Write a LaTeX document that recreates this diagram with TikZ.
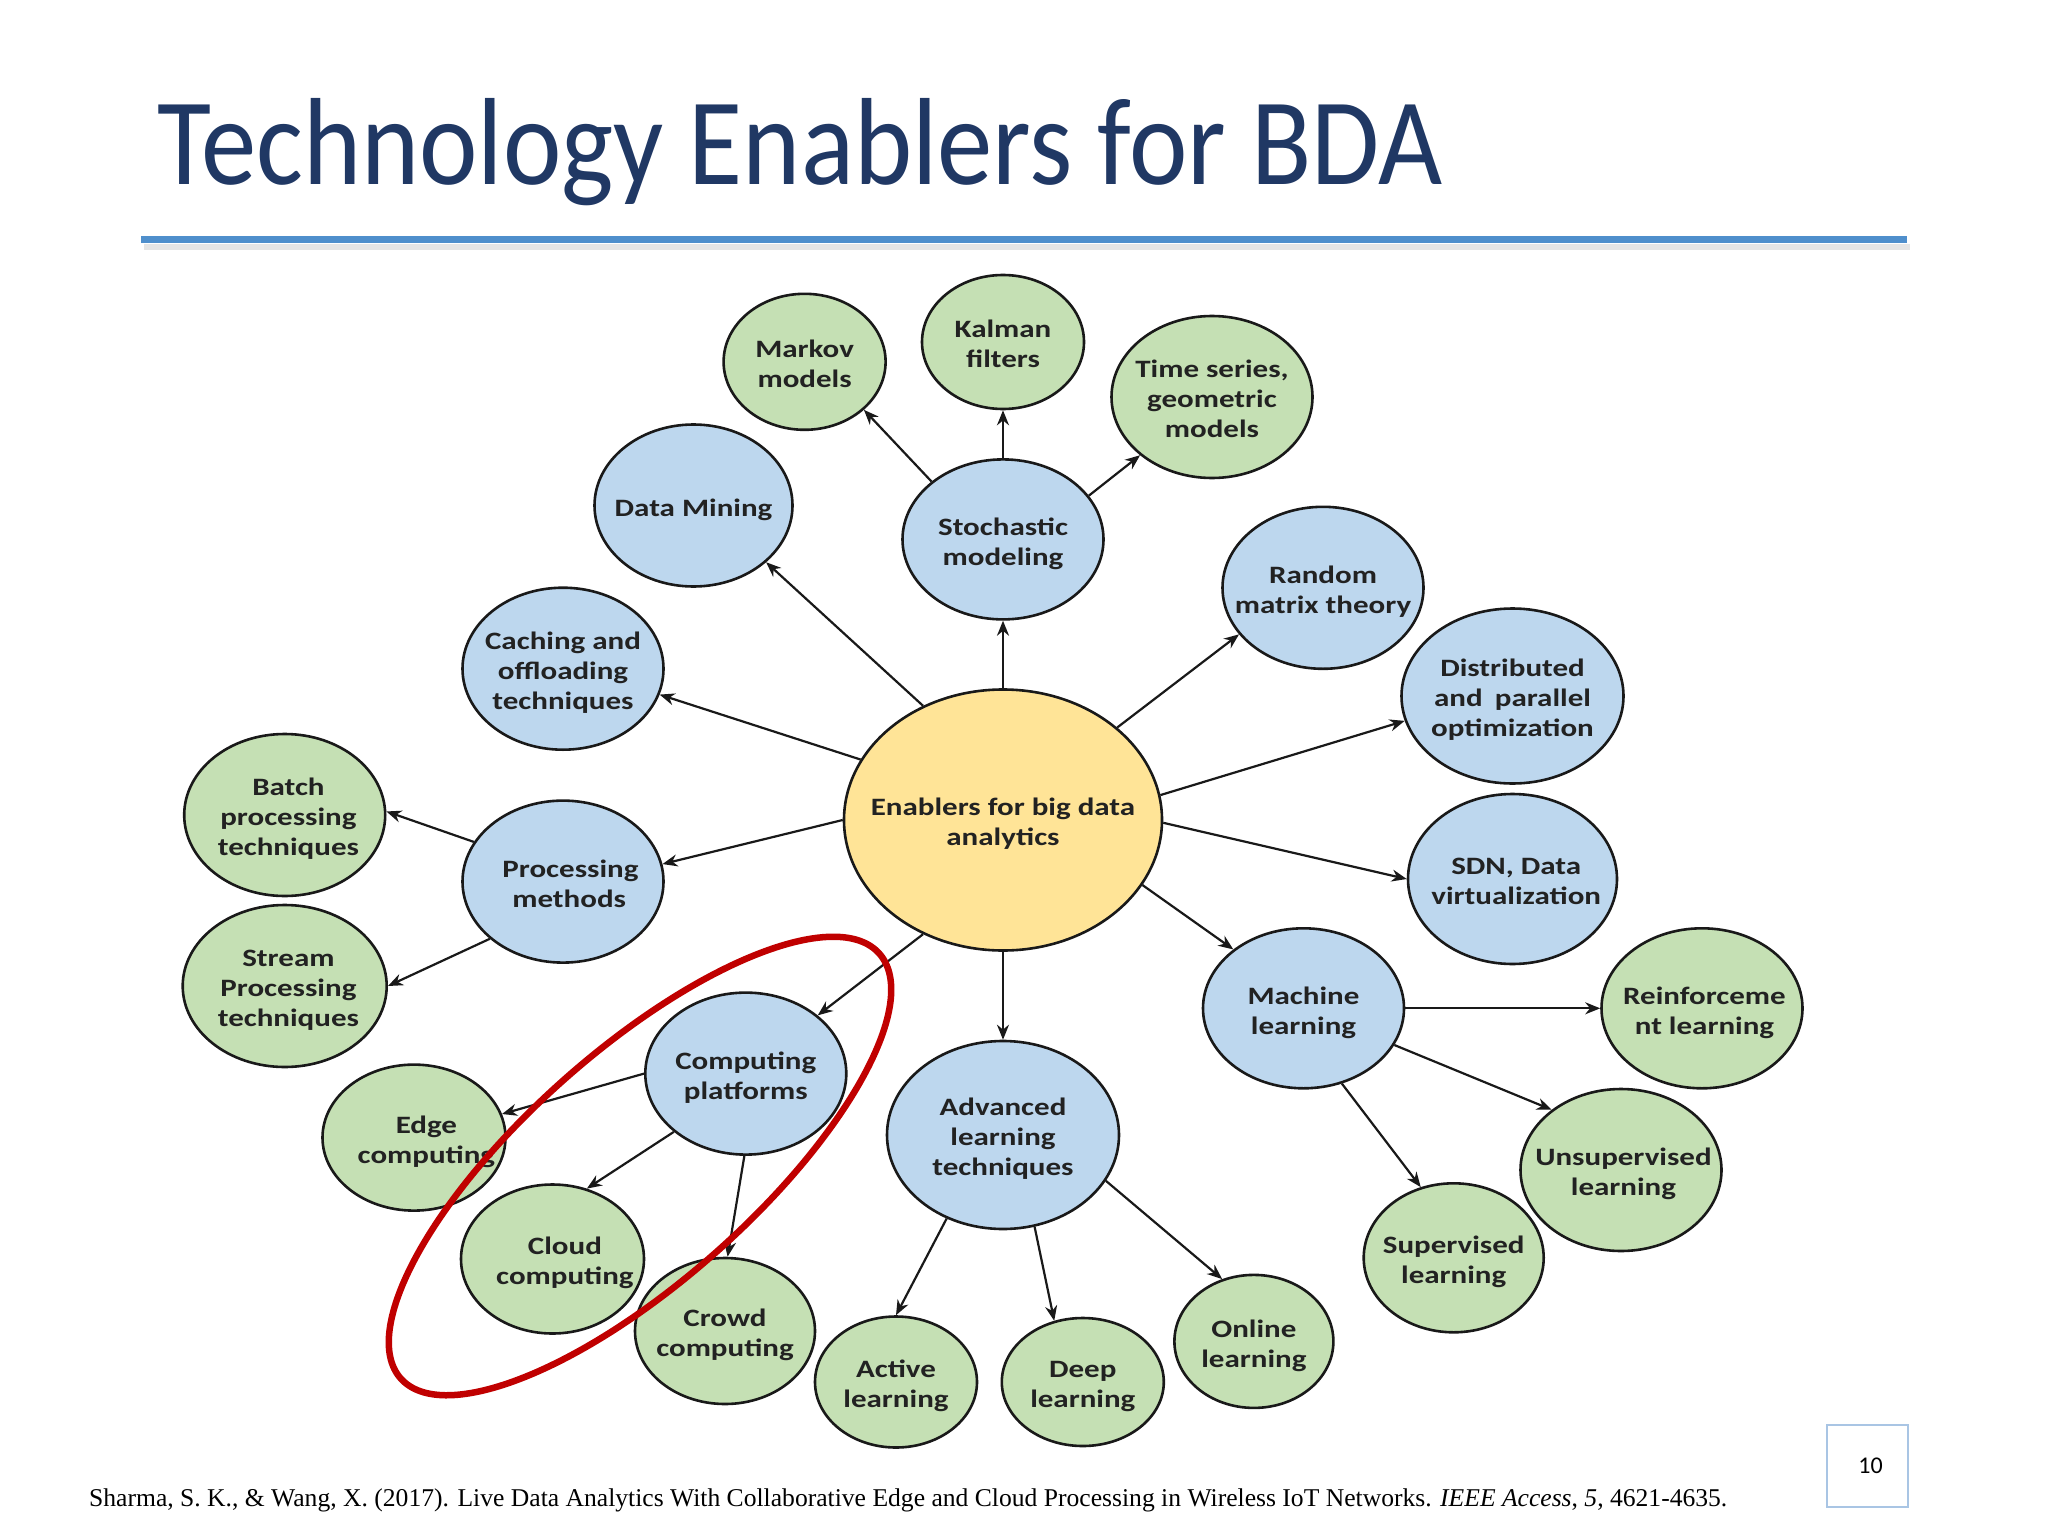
\documentclass[tikz,border=0pt]{standalone}
\usepackage{graphicx}
\usepackage{fontspec}
\setmainfont{Carlito}
\newfontfamily\timesf{Liberation Serif}
\usetikzlibrary{shapes.geometric,arrows.meta}
\definecolor{titleblue}{HTML}{203864}
\definecolor{rulecol}{HTML}{4F8FCC}
\definecolor{nblue}{HTML}{BDD7EE}
\definecolor{ngreen}{HTML}{C5E0B4}
\definecolor{nyellow}{HTML}{FFE497}
\definecolor{ntext}{HTML}{222222}
\definecolor{boxblue}{HTML}{A9C5E4}
\definecolor{ringred}{HTML}{C00000}
\newcommand{\lbl}[1]{\makebox[0pt][c]{\raisebox{-11pt}[0pt][0pt]{\scalebox{1.24}[1]{\begin{tabular}{@{}c@{}}#1\end{tabular}}}}}
\tikzset{
  bubble/.style={ellipse, draw=black!90, line width=2.6pt, inner sep=0pt, text=ntext,
     font=\bfseries\fontsize{25}{30}\selectfont},
  bl/.style={bubble, fill=nblue},
  gr/.style={bubble, fill=ngreen},
  ye/.style={bubble, fill=nyellow},
  sz/.style 2 args={minimum width=#1pt, minimum height=#2pt},
  arr/.style={line width=2.2pt, black!90, -{Stealth[length=15pt,width=12pt]}}
}
\begin{document}
\begin{tikzpicture}[x=1pt,y=-1pt]
\useasboundingbox (0,0) rectangle (2048,1536);
\fill[white] (0,0) rectangle (2048,1536);
% title and rule
\node[anchor=base west, inner sep=0pt, text=titleblue, font=\fontsize{124}{130}\selectfont] (title) at (157,184) {\scalebox{0.893}[1]{Technology Enablers for BDA}};
\draw[line width=6pt, black!10] (144,247) -- (1910,247);
\draw[line width=7pt, rulecol] (141,239) -- (1907,239);
% nodes
\node[gr, sz={162}{136}] (markov) at (804.6,361.8) {\lbl{Markov\\models}};
\node[gr, sz={162}{134}] (kalman) at (1003,342) {\lbl{Kalman\\filters}};
\node[gr, sz={201}{162}] (tseries) at (1212,397) {\lbl{Time series,\\geometric\\models}};
\node[bl, sz={198}{162}] (dmining) at (693.5,505.5) {\lbl{Data Mining}};
\node[bl, sz={201}{160}] (stoch) at (1003,539.4) {\lbl{Stochastic\\modeling}};
\node[bl, sz={201}{162}] (random) at (1323,587.8) {\lbl{Random\\matrix theory}};
\node[bl, sz={201}{162}] (caching) at (563,668.7) {\lbl{Caching and\\offloading\\techniques}};
\node[bl, sz={222}{175}] (distrib) at (1512.5,696) {\lbl{Distributed\\and\, parallel\\optimization}};
\node[gr, sz={201}{162}] (batch) at (284.7,815) {\lbl{\hspace*{6pt}Batch\\\hspace*{6pt}processing\\\hspace*{6pt}techniques}};
\node[bl, sz={201}{162}] (procm) at (563,881.6) {\lbl{\hspace*{12pt}Processing\\\hspace*{10pt}methods}};
\node[ye, sz={318}{261}] (enab) at (1003,820) {\lbl{Enablers for big data\\analytics}};
\node[bl, sz={209}{170}] (sdn) at (1512.5,879) {\lbl{\hspace*{6pt}SDN, Data\\\hspace*{6pt}virtualization}};
\node[gr, sz={204}{162}] (stream) at (284.7,986) {\lbl{\hspace*{6pt}Stream\\\hspace*{6pt}Processing\\\hspace*{6pt}techniques}};
\node[bl, sz={201}{162}] (comp) at (745.8,1073.6) {\lbl{Computing\\platforms}};
\node[bl, sz={201}{160}] (mach) at (1303.5,1008.3) {\lbl{Machine\\learning}};
\node[gr, sz={201}{160}] (reinf) at (1702,1008.3) {\lbl{\hspace*{4pt}Reinforceme\\\hspace*{4pt}nt learning}};
\node[gr, sz={183}{146}] (edge) at (414,1137.6) {\lbl{\hspace*{20pt}Edge\\\hspace*{20pt}computing}};
\node[bl, sz={232}{188}] (adv) at (1003,1135) {\lbl{Advanced\\learning\\techniques}};
\node[gr, sz={201}{162}] (unsup) at (1621,1170) {\lbl{\hspace*{4pt}Unsupervised\\\hspace*{4pt}learning}};
\node[gr, sz={183}{149}] (cloud) at (552.5,1259) {\lbl{\hspace*{20pt}Cloud\\\hspace*{20pt}computing}};
\node[gr, sz={180}{149}] (sup) at (1453.7,1257.8) {\lbl{Supervised\\learning}};
\node[gr, sz={180}{146}] (crowd) at (725,1331) {\lbl{Crowd\\computing}};
\node[gr, sz={159}{133}] (online) at (1253.9,1341.4) {\lbl{Online\\learning}};
\node[gr, sz={162}{131}] (active) at (896,1382) {\lbl{Active\\learning}};
\node[gr, sz={162}{128}] (deep) at (1082.8,1382) {\lbl{Deep\\learning}};
% connectors
\draw[arr] (enab.90) -- (stoch.-90);
\draw[arr] (enab.125) -- (dmining.-38.5);
\draw[arr] (enab.157) -- (caching.-15);
\draw[arr] (enab.180) -- (procm.10);
\draw[arr] (enab.-125.6) -- (comp.39.8);
\draw[arr] (enab.-90) -- (adv.90);
\draw[arr] (enab.-25.9) -- (mach.140.8);
\draw[arr] (enab.-1) -- (sdn.180);
\draw[arr] (enab.9.8) -- (distrib.-167.7);
\draw[arr] (enab.39) -- (random.-151.6);
\draw[arr] (stoch.141.8) -- (markov.-39.7);
\draw[arr] (stoch.90) -- (kalman.-90);
\draw[arr] (stoch.27.9) -- (tseries.-141.6);
\draw[arr] (procm.156.5) -- (batch.2);
\draw[arr] (procm.-142) -- (stream.0);
\draw[arr] (comp.180) -- (edge.15.6);
\draw[arr] (comp.-141.2) -- (cloud.64.3);
\draw[arr] (comp.-91) -- (crowd.88);
\draw[arr] (adv.-124.5) -- (active.90);
\draw[arr] (adv.-71.3) -- (deep.115);
\draw[arr] (adv.-24.8) -- (online.117);
\draw[arr] (mach.0) -- (reinf.180);
\draw[arr] (mach.-22) -- (unsup.139.2);
\draw[arr] (mach.-63) -- (sup.115.3);
% red ring
\draw[ringred, line width=6.5pt, rotate around={41.6:(640,1166)}] (640,1166) ellipse [x radius=320pt, y radius=115pt];
% citation and page number
\node[anchor=base west, inner sep=0pt, font=\timesf\fontsize{25.6}{30}\selectfont] (cite) at (89,1506) {Sharma, S. K., \& Wang, X. (2017). Live Data Analytics With Collaborative Edge and Cloud Processing in Wireless IoT Networks. \textit{IEEE Access}, \textit{5}, 4621-4635.};
\node[draw=boxblue, line width=2pt, anchor=north west, minimum width=81pt, minimum height=82pt, font=\fontsize{24}{28}\selectfont] (pgno) at (1826,1424) {\hspace*{6pt}10};
\end{tikzpicture}
\end{document}
